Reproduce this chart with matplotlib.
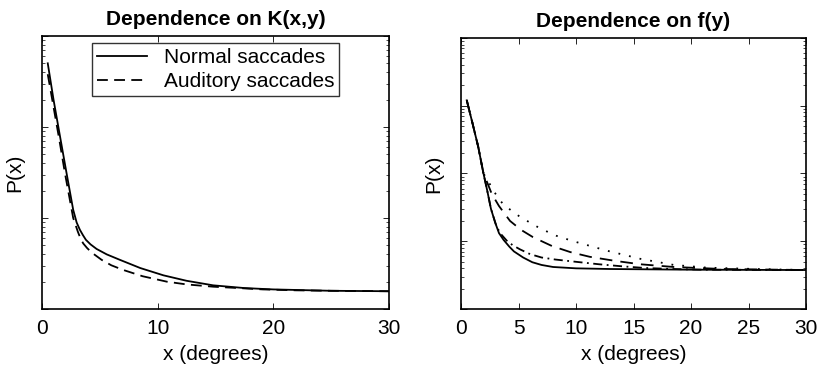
import numpy as np
import matplotlib
matplotlib.use("Agg")
import matplotlib.pyplot as plt
from matplotlib.ticker import LogLocator, NullFormatter

plt.rcParams['font.family'] = ['Liberation Sans', 'DejaVu Sans']

# Left panel: P(x), stored as log10 values
x_normal = [0.5, 1.0, 1.5, 2.13, 2.7, 3.0, 3.28, 3.55, 3.8, 4.2, 4.72, 5.6, 6.74,
            8.5, 10.5, 12.5, 14.8, 17.5, 20, 25, 30]
lp_normal = [-0.30, -0.70, -1.06, -1.51, -1.91, -2.05, -2.13, -2.19, -2.24, -2.29,
             -2.34, -2.40, -2.46, -2.55, -2.63, -2.69, -2.74, -2.77, -2.785, -2.80, -2.805]

x_auditory = [0.5, 1.0, 1.5, 1.99, 2.7, 3.1, 3.35, 3.57, 3.9, 4.3, 5.16, 6.0, 7.0,
              8.7, 10.8, 12.5, 14.8, 17, 19.1, 22, 25, 30]
lp_auditory = [-0.42, -0.78, -1.14, -1.51, -2.0, -2.15, -2.23, -2.28, -2.33, -2.38,
               -2.46, -2.52, -2.57, -2.64, -2.70, -2.73, -2.755, -2.77, -2.785,
               -2.795, -2.80, -2.805]

# Right panel: four curves for different f(y)
x_solid = [0.5, 1.0, 1.5, 1.94, 2.3, 2.6, 2.96, 3.3, 3.7, 4.2, 4.6, 5.4, 6.2, 7.0,
           8.0, 10, 13, 20, 30]
lp_solid = [-0.92, -1.26, -1.61, -1.99, -2.27, -2.52, -2.72, -2.88, -2.98, -3.08,
            -3.15, -3.24, -3.31, -3.35, -3.38, -3.40, -3.41, -3.42, -3.425]

x_dashdot = [0.5, 1.0, 1.5, 1.94, 2.3, 2.6, 3.1, 3.5, 3.97, 4.5, 5.13, 6.0, 7.0,
             8.2, 9.8, 12, 14, 16, 18.5, 21, 30]
lp_dashdot = [-0.92, -1.26, -1.61, -1.99, -2.27, -2.52, -2.79, -2.90, -2.99, -3.06,
              -3.12, -3.19, -3.24, -3.27, -3.30, -3.34, -3.37, -3.395, -3.41, -3.42, -3.425]

x_dashed = [0.5, 1.0, 1.5, 1.94, 2.2, 2.67, 3.3, 4.26, 5.2, 6.26, 7.9, 9.5, 11.2,
            13.4, 15.6, 18.5, 22.8, 30]
lp_dashed = [-0.92, -1.26, -1.61, -1.99, -2.10, -2.30, -2.48, -2.70, -2.83, -2.94,
             -3.07, -3.16, -3.23, -3.29, -3.34, -3.38, -3.41, -3.425]

x_dotted = [0.5, 1.0, 1.5, 1.94, 2.2, 2.38, 3.0, 3.68, 5.13, 6.87, 8.3, 9.77, 12.7,
            15.6, 18.5, 21.4, 25.7, 30]
lp_dotted = [-0.92, -1.26, -1.61, -1.99, -2.08, -2.12, -2.30, -2.46, -2.64, -2.81,
             -2.92, -3.00, -3.14, -3.26, -3.35, -3.39, -3.41, -3.425]

titles = ['Dependence on K(x,y)', 'Dependence on f(y)']
legend_labels = ['Normal saccades', 'Auditory saccades']


def style_axis(ax, ylo, xticks):
    ax.set_yscale('log')
    ax.set_ylim(ylo, 1.0)
    ax.set_xlim(0, 30)
    ax.set_xticks(xticks)
    ax.yaxis.set_major_locator(LogLocator(base=10, numticks=10))
    ax.yaxis.set_minor_locator(LogLocator(base=10, subs=np.arange(2, 10), numticks=10))
    ax.yaxis.set_major_formatter(NullFormatter())
    ax.yaxis.set_minor_formatter(NullFormatter())
    ax.tick_params(which='both', direction='in', top=True, right=True)
    ax.tick_params(which='major', length=4, width=0.6, labelsize=15, pad=7)
    ax.tick_params(which='minor', length=2, width=0.5)
    for s in ax.spines.values():
        s.set_linewidth(1.2)
    ax.set_xlabel('x (degrees)', fontsize=15, labelpad=5)
    ax.set_ylabel('P(x)', fontsize=15, labelpad=6)


fig = plt.figure(figsize=(8.18, 3.70), dpi=100)
ax1 = fig.add_axes([0.0513, 0.1649, 0.4242, 0.7378])
ax2 = fig.add_axes([0.5636, 0.1649, 0.4218, 0.7324])

lw = 1.3
ax1.plot(x_normal, np.power(10.0, lp_normal), color='black', lw=lw, ls='-',
         label=legend_labels[0])
ax1.plot(x_auditory, np.power(10.0, lp_auditory), color='black', lw=lw,
         ls=(0, (6, 3.5)), label=legend_labels[1])
style_axis(ax1, 1e-3, [0, 10, 20, 30])
ax1.set_title(titles[0], fontsize=15, fontweight='bold', pad=8)
leg = ax1.legend(loc='upper center', bbox_to_anchor=(0.5, 0.975), fontsize=15,
                 frameon=True, fancybox=False, handlelength=2.4,
                 borderpad=0.25, labelspacing=0.25, handletextpad=0.8, borderaxespad=0)
leg.get_frame().set_edgecolor('black')
leg.get_frame().set_linewidth(1.0)

ax2.plot(x_dotted, np.power(10.0, lp_dotted), color='black', lw=lw, ls=(0, (1, 5)))
ax2.plot(x_dashed, np.power(10.0, lp_dashed), color='black', lw=lw, ls=(0, (7, 4.5)))
ax2.plot(x_dashdot, np.power(10.0, lp_dashdot), color='black', lw=lw,
         ls=(0, (5, 2.5, 1, 2.5)))
ax2.plot(x_solid, np.power(10.0, lp_solid), color='black', lw=lw, ls='-')
style_axis(ax2, 1e-4, [0, 5, 10, 15, 20, 25, 30])
ax2.set_title(titles[1], fontsize=15, fontweight='bold', pad=8)

fig.savefig('out.png', dpi=100)
